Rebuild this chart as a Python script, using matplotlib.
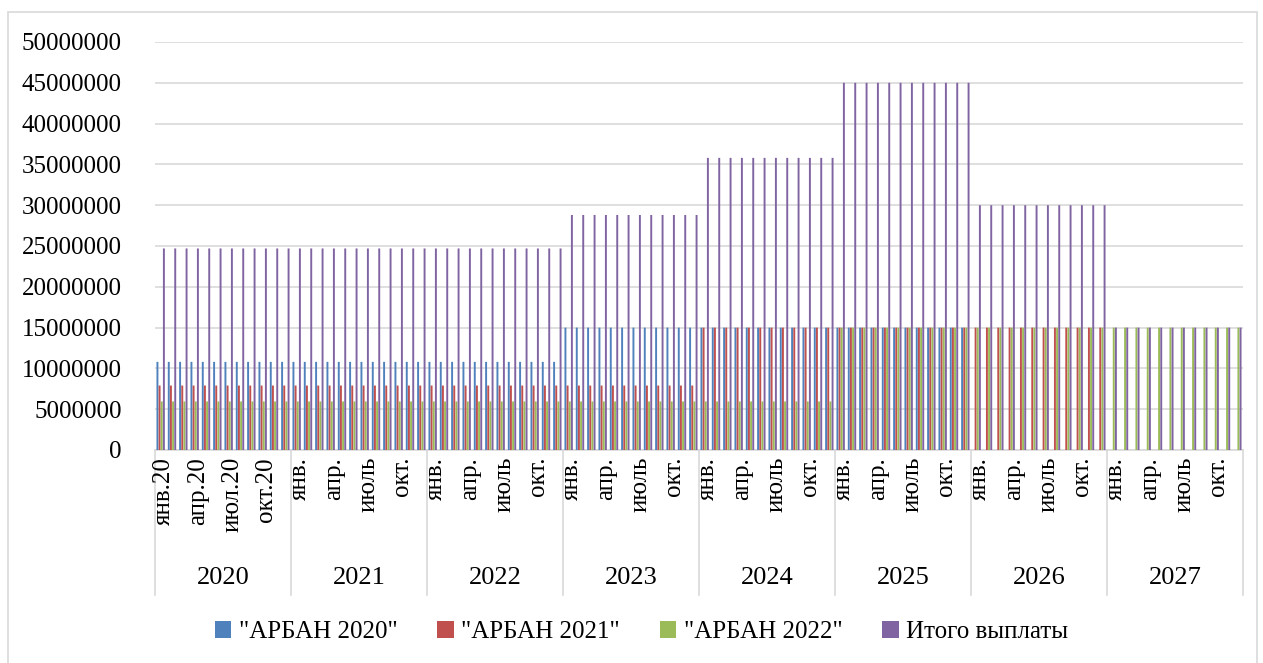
import numpy as np
import matplotlib
matplotlib.use("Agg")
import matplotlib.pyplot as plt
from matplotlib.patches import Patch, Rectangle
from matplotlib.lines import Line2D

# значения по годам (каждый месяц года одинаковый)
years = ["2020", "2021", "2022", "2023", "2024", "2025", "2026", "2027"]
arban_2020 = [10800000, 10800000, 10800000, 15000000, 15000000, 15000000, 0, 0]
arban_2021 = [7900000, 7900000, 7900000, 7900000, 15000000, 15000000, 15000000, 0]
arban_2022 = [5950000, 5950000, 5950000, 5950000, 5950000, 15000000, 15000000, 15000000]
itogo = [24700000, 24700000, 24700000, 28800000, 35800000, 45000000, 30000000, 15000000]

labels_2020 = ["янв.20", "апр.20", "июл.20", "окт.20"]
labels_other = ["янв.", "апр.", "июль", "окт."]
months_per_year = 12

series_names = ['"АРБАН 2020"', '"АРБАН 2021"', '"АРБАН 2022"', "Итого выплаты"]
colors = ["#4F81BD", "#C0504D", "#9BBB59", "#8064A2"]

plt.rcParams["font.family"] = ["Liberation Serif", "DejaVu Serif"]
FS = 18
GRID = "#d9d9d9"

W, H = 1263, 663
fig = plt.figure(figsize=(W / 100, H / 100), dpi=100)
fig.patches.append(Rectangle((8 / W, -0.01), (1257 - 8) / W, (H - 12) / H + 0.01,
                             transform=fig.transFigure, fill=False,
                             edgecolor=GRID, linewidth=1.2))

left, right, top, bottom = 155, 1243, 42, 450
ax = fig.add_axes([left / W, (H - bottom) / H, (right - left) / W, (bottom - top) / H])

data = [arban_2020, arban_2021, arban_2022, itogo]
n = len(years) * months_per_year
x = np.arange(n)
step = 0.19
for k, (vals, c, name) in enumerate(zip(data, colors, series_names)):
    monthly = np.repeat(vals, months_per_year)
    ax.bar(x + (k - 1.5) * step, monthly, width=0.17, color=c, label=name,
           zorder=3, snap=False, linewidth=0)

ax.set_xlim(-0.5, n - 0.5)
ax.set_ylim(0, 50000000)
ax.set_yticks(np.arange(0, 50000001, 5000000))
ax.set_yticklabels([str(v) for v in range(0, 50000001, 5000000)], fontsize=FS)
ax.tick_params(axis="y", length=0, pad=24)
ax.set_xticks([])
ax.grid(axis="y", color=GRID, linewidth=1.2, zorder=0)
for s in ["left", "right", "top"]:
    ax.spines[s].set_visible(False)
ax.spines["bottom"].set_color(GRID)
ax.spines["bottom"].set_linewidth(1.2)

ah = bottom - top
tr = ax.get_xaxis_transform()
label_y = -7 / ah
year_y = -(578 - bottom) / ah
sep_bottom = -(595 - bottom) / ah

for yi, yr in enumerate(years):
    base = yi * months_per_year
    labs = labels_2020 if yi == 0 else labels_other
    for j, lab in enumerate(labs):
        ax.text(base + 3 * j + 0.3, label_y, lab, transform=tr, rotation=90,
                ha="center", va="top", fontsize=FS, clip_on=False)
    ax.text(base + (months_per_year - 1) / 2, year_y, yr, transform=tr,
            ha="center", va="center", fontsize=FS + 1, clip_on=False)

for b in range(len(years) + 1):
    xb = b * months_per_year - 0.5
    ax.add_line(Line2D([xb, xb], [0, sep_bottom], transform=tr, color=GRID,
                       linewidth=1.2, clip_on=False))

handles = [Patch(facecolor=c, edgecolor="none") for c in colors]
fig.legend(handles, series_names, loc="center", bbox_to_anchor=(0.508, (H - 632) / H),
           ncol=4, frameon=False, fontsize=FS, handlelength=0.65, handleheight=0.65,
           handletextpad=0.3, columnspacing=1.6)

fig.savefig("out.png", dpi=100)
